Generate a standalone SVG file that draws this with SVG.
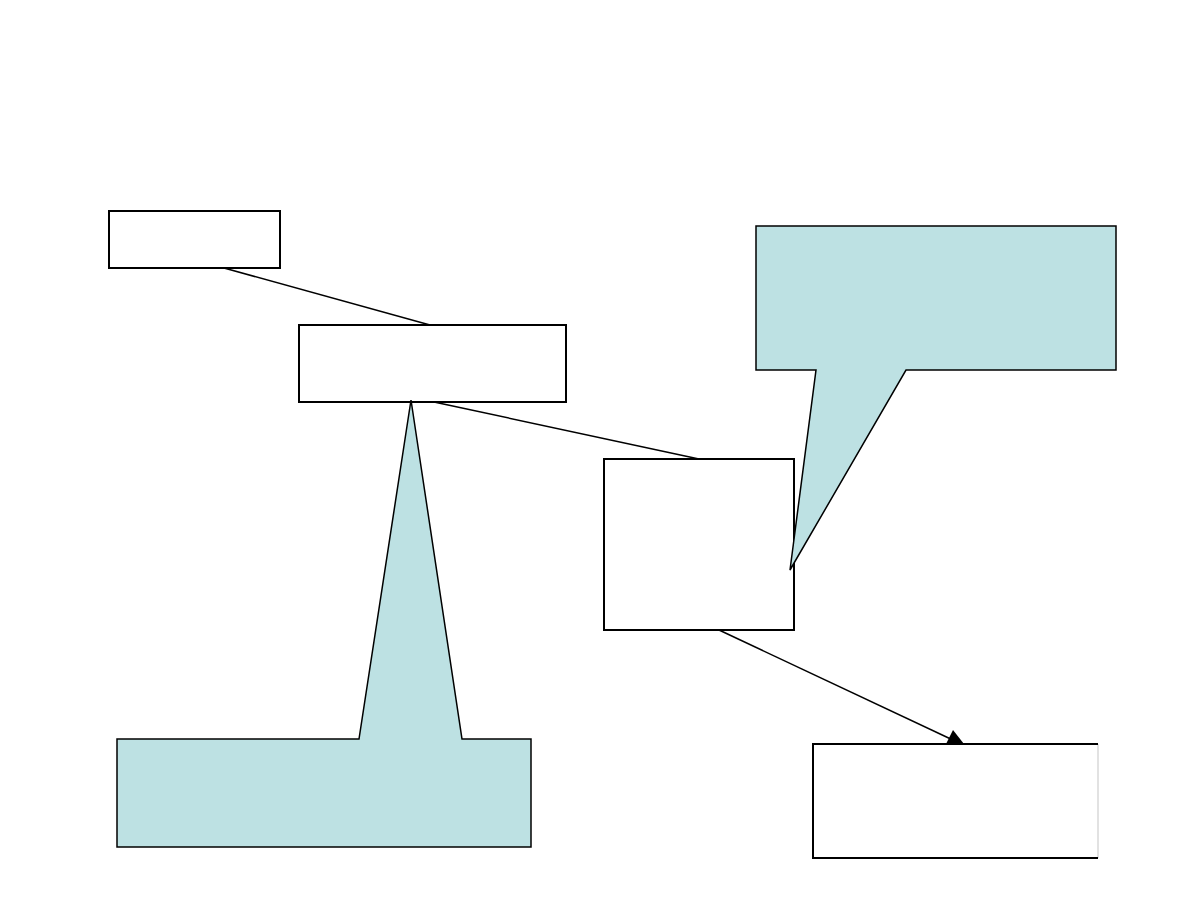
<svg xmlns="http://www.w3.org/2000/svg" width="1188" height="918" viewBox="0 0 1188 918">
<style>
.box{fill:#ffffff;stroke:#000000;stroke-width:2}
.callout{fill:#bde1e3;stroke:#000000;stroke-width:1.5;stroke-linejoin:miter}
.conn{stroke:#000000;stroke-width:1.5;fill:none}
</style>
<rect width="1188" height="918" fill="#ffffff"/>
<g id="connectors">
<line class="conn" x1="224" y1="268" x2="430" y2="325"/>
<line class="conn" x1="434" y1="402" x2="699" y2="459"/>
<line class="conn" x1="719" y1="630" x2="955" y2="741"/>
<polygon points="953,730 946,744 964,744" fill="#000000"/>
</g>
<g id="nodeA"><rect class="box" x="109" y="211" width="171" height="57"/></g>
<g id="nodeB"><rect class="box" x="299" y="325" width="267" height="77"/></g>
<g id="nodeC"><rect class="box" x="604" y="459" width="190" height="171"/></g>
<g id="nodeD">
<rect x="813" y="744" width="285" height="114" fill="#ffffff" stroke="none"/>
<line x1="1098" y1="744" x2="1098" y2="858" stroke="#d9d9d9" stroke-width="1.5"/>
<polyline points="1098,744 813,744 813,858 1098,858" fill="none" stroke="#000000" stroke-width="2"/>
</g>
<g id="callout1"><polygon class="callout" points="756,226 1116,226 1116,370 906,370 790,570 816,370 756,370"/></g>
<g id="callout2"><polygon class="callout" points="117,739 359,739 411,400 462,739 531,739 531,847 117,847"/></g>
</svg>
